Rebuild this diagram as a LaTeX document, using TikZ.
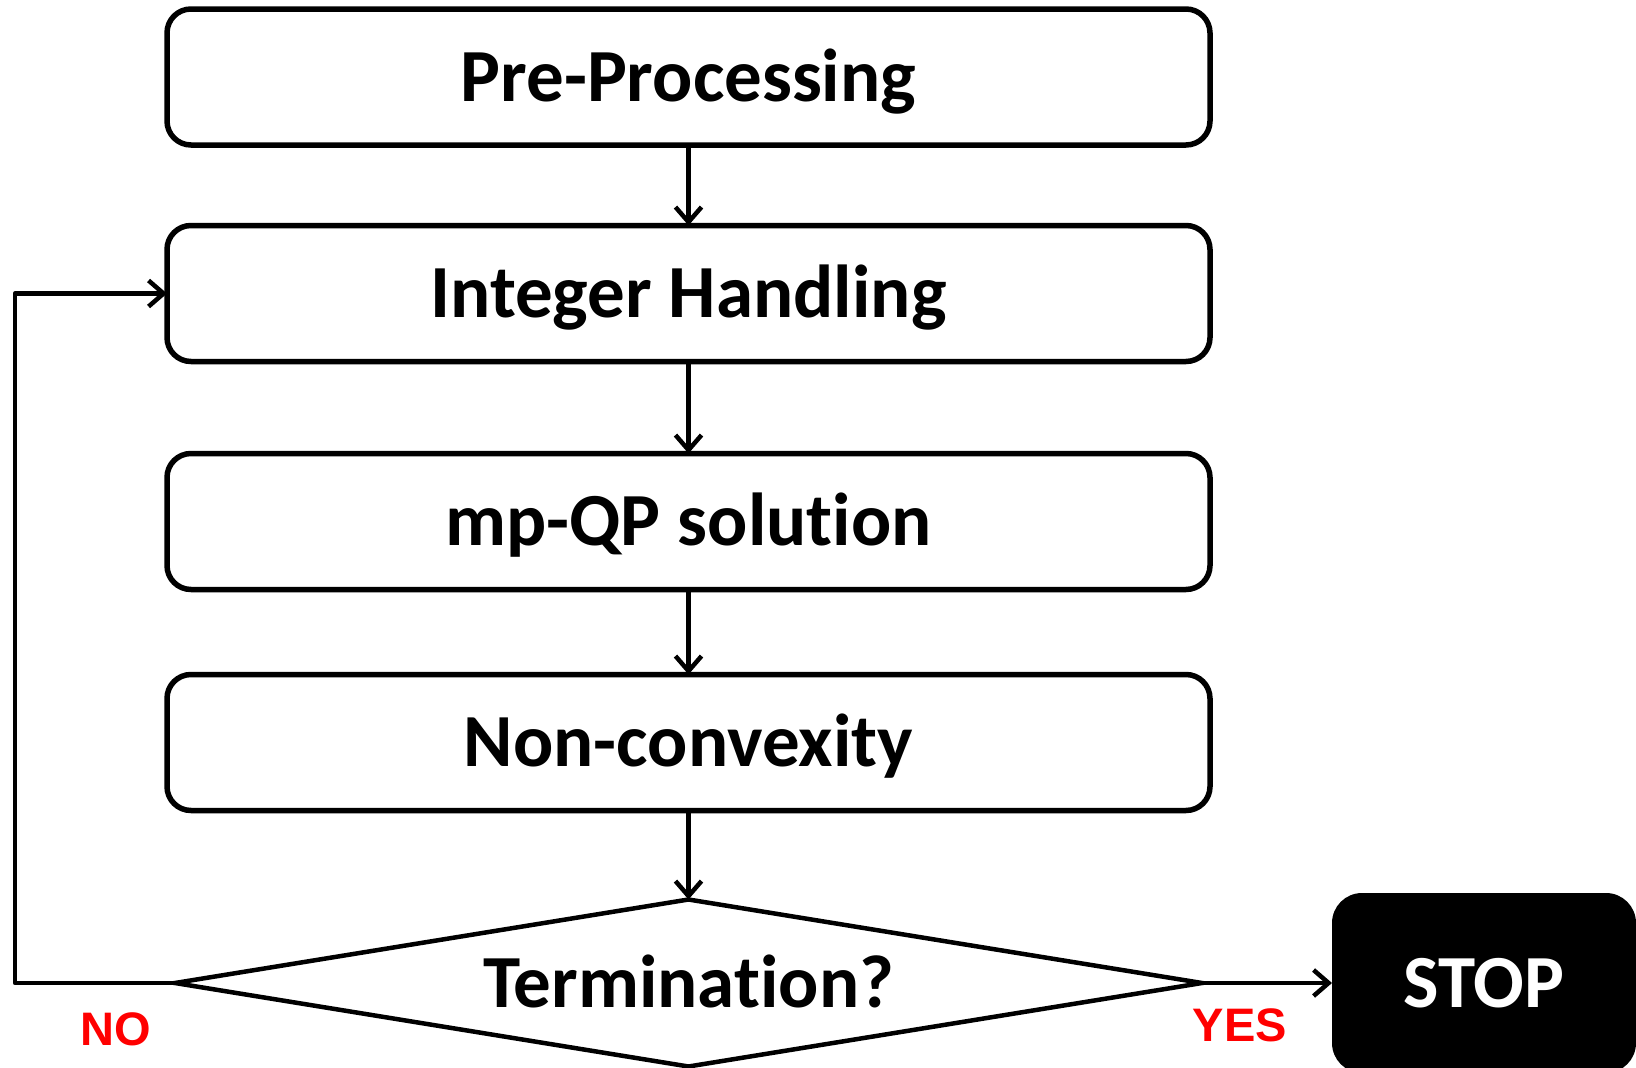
\documentclass[tikz,border=0pt]{standalone}
\usepackage{fontspec}
\setmainfont{Carlito}[Ligatures=NoCommon]
\newfontfamily\labelfont{Liberation Sans}
\usetikzlibrary{arrows.meta,shapes.geometric}

\tikzset{
  bigtext/.style={font=\fontsize{75}{80}\selectfont\bfseries,
    text height=60pt, text depth=12pt},
  stepbox/.style={bigtext, draw, line width=5.5pt, rounded corners=24pt, fill=white,
    minimum width=1043pt, minimum height=136pt, inner sep=0pt, outer sep=0pt},
  decision/.style={bigtext, draw, line width=4.5pt, shape=diamond, aspect=6,
    minimum width=1027pt, minimum height=167pt, inner sep=0pt, outer sep=0pt},
  stopbox/.style={bigtext, fill=black, rounded corners=30pt, text=white,
    minimum width=304pt, minimum height=180pt, inner sep=0pt, outer sep=0pt},
  flow/.style={line width=4.5pt, -{Straight Barb[length=15pt, width=26pt, line width=4.5pt]}},
  answer/.style={text=red, font=\labelfont\fontsize{47}{50}\selectfont\bfseries}
}

\begin{document}
\begin{tikzpicture}[x=1pt, y=-1pt]
  \useasboundingbox (0,0) rectangle (1636,1068);

  \node[stepbox] (pre) at (688.5,77) {Pre-Processing};
  \node[stepbox] (int) at (688.5,293.5) {Integer Handling};
  \node[stepbox] (mpqp) at (688.5,521.5) {mp-QP solution};
  \node[stepbox] (ncv) at (688.5,742.5) {Non-convexity};
  \node[decision] (term) at (688.5,983) {Termination?};
  \node[stopbox] (stop) at (1484,983) {STOP};

  \coordinate (loopbot) at (15,983);
  \coordinate (looptop) at (15,293.5);

  \draw[flow] (pre) -- (int);
  \draw[flow] (int) -- (mpqp);
  \draw[flow] (mpqp) -- (ncv);
  \draw[flow] (ncv) -- (term.north);
  \draw[flow] (term.east) -- (stop.west);
  \draw[flow, line join=round] (term.west) -- (loopbot) -- (looptop) -- (int.west);

  \node[answer] (yes) at (1240,1025) {YES};
  \node[answer] (no) at (116,1029) {NO};
\end{tikzpicture}
\end{document}
